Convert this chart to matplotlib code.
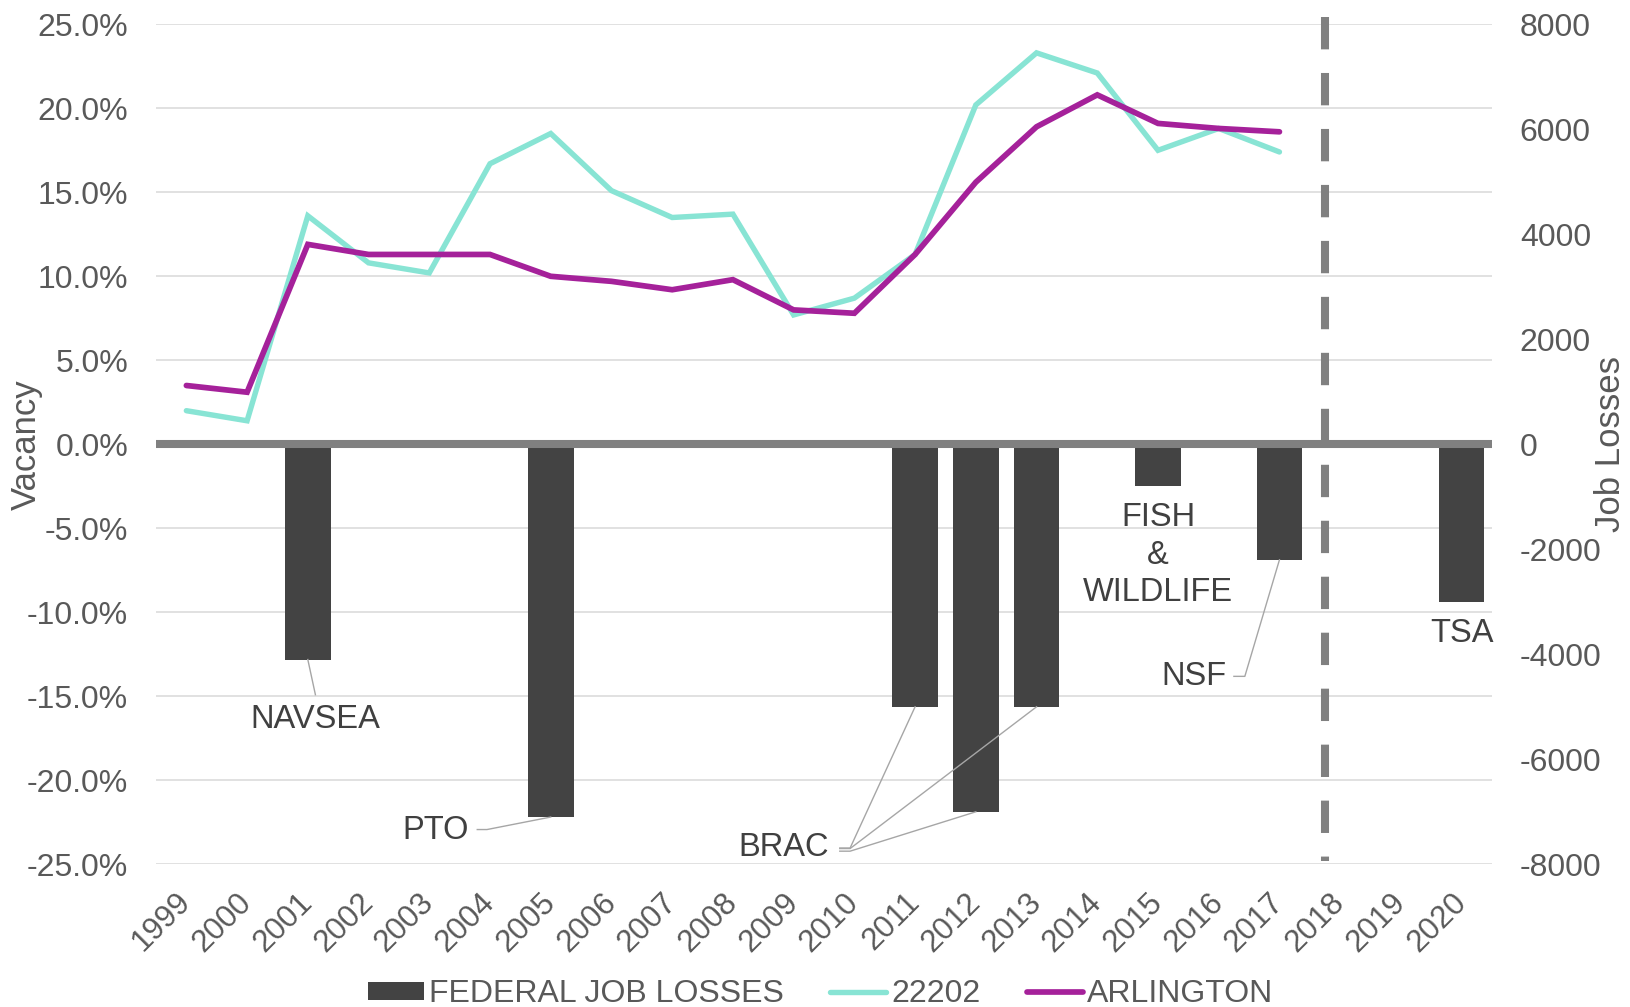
import matplotlib
matplotlib.use("Agg")
import matplotlib.pyplot as plt
import numpy as np

plt.rcParams['font.family'] = ['Liberation Sans', 'DejaVu Sans']
plt.rcParams['lines.scale_dashes'] = False

# ---------------- data ----------------
years = [str(y) for y in range(1999, 2021)]
vacancy_22202 = [2.0, 1.4, 13.6, 10.8, 10.2, 16.7, 18.5, 15.1, 13.5, 13.7, 7.7,
                 8.7, 11.3, 20.2, 23.3, 22.1, 17.5, 18.8, 17.4, np.nan, np.nan, np.nan]
vacancy_arlington = [3.5, 3.1, 11.9, 11.3, 11.3, 11.3, 10.0, 9.7, 9.2, 9.8, 8.0,
                     7.8, 11.3, 15.6, 18.9, 20.8, 19.1, 18.8, 18.6, np.nan, np.nan, np.nan]
federal_job_losses = [0, 0, -4100, 0, 0, 0, -7100, 0, 0, 0, 0,
                      0, -5000, -7000, -5000, 0, -800, 0, -2200, 0, 0, -3000]
left_ticks = [25, 20, 15, 10, 5, 0, -5, -10, -15, -20, -25]
right_ticks = [8000, 6000, 4000, 2000, 0, -2000, -4000, -6000, -8000]
marker_year = 18.75   # dashed divider position (category units)

TXT = '#595959'
BAR = '#434343'
TEAL = '#88E4D4'
PURPLE = '#A5219A'
GREY = '#808080'

fig = plt.figure(figsize=(16.3, 10.07), dpi=100)
ax = fig.add_axes([156/1630, 1-864.3/1007, 1336/1630, 840/1007])
ax2 = ax.twinx()

x = np.arange(len(years))

# bars on job-loss axis
bar_idx = [i for i, v in enumerate(federal_job_losses) if v != 0]
ax2.bar([x[i] for i in bar_idx], [federal_job_losses[i] for i in bar_idx],
        width=0.75, color=BAR, zorder=2, label='FEDERAL JOB LOSSES')

# lines on vacancy axis
l1, = ax.plot(x, vacancy_22202, color=TEAL, lw=3.9, zorder=3, label='22202',
              solid_capstyle='round', solid_joinstyle='miter')
l2, = ax.plot(x, vacancy_arlington, color=PURPLE, lw=4.1, zorder=3, label='ARLINGTON',
              solid_capstyle='round', solid_joinstyle='miter')

ax.set_xlim(-0.5, len(years)-0.5)
ax.set_ylim(-25, 25)
ax2.set_ylim(-8000, 8000)

ax.set_yticks(left_ticks)
ax.set_yticklabels([f'{v:.1f}%' for v in left_ticks])
ax2.set_yticks(right_ticks)
ax2.set_yticklabels([str(v) for v in right_ticks])

ax.grid(axis='y', color='#d9d9d9', lw=1.1, zorder=0)
ax.set_axisbelow(True)
for a in (ax, ax2):
    for s in a.spines.values():
        s.set_visible(False)

ax.set_xticks(x)
ax.set_xticklabels(years, rotation=45, ha='right', va='center',
                   rotation_mode='anchor', fontsize=22.5, color=TXT)
ax.tick_params(axis='x', length=0, pad=24)
ax.tick_params(axis='y', length=0, pad=20, labelsize=23, labelcolor=TXT)
ax2.tick_params(axis='y', length=0, pad=20, labelsize=23, labelcolor=TXT)

ax.set_ylabel('Vacancy', fontsize=25, color=TXT)
ax.yaxis.set_label_coords((26-156)/1336, 0.5)
ax.yaxis.label.set_va('center')
ax2.set_ylabel('Job Losses', fontsize=25, color=TXT, rotation=90)
ax2.yaxis.set_label_coords((1611-156)/1336, 0.5)
ax2.yaxis.label.set_va('center')

# zero line and divider
ax2.axhline(0, color=GREY, lw=5.8, zorder=4)
ax.plot([marker_year, marker_year], [25.45, -24.8], color=GREY, lw=5.8,
        dashes=(23.3, 17.0), dash_capstyle='butt', zorder=4, clip_on=False)

# annotations (job-loss axis coordinates)
LEAD = '#a6a6a6'
ANN = '#404040'
fs = 23.5
ax2.text(2.12, -5233, 'NAVSEA', ha='center', va='center', fontsize=fs, color=ANN)
ax2.plot([2, 2.125], [federal_job_losses[2], -4770], color=LEAD, lw=1)

ax2.text(4.11, -7348, 'PTO', ha='center', va='center', fontsize=fs, color=ANN)
ax2.plot([4.79, 4.95, 6], [-7338, -7338, federal_job_losses[6]], color=LEAD, lw=1)

ax2.text(9.84, -7672, 'BRAC', ha='center', va='center', fontsize=fs, color=ANN)
for i, sy in [(12, -7690), (13, -7750), (14, -7700)]:
    ax2.plot([10.76, 10.93, i], [sy, sy, federal_job_losses[i]], color=LEAD, lw=1)

ax2.text(16, -2109, 'FISH\n&\nWILDLIFE', ha='center', va='center', fontsize=fs,
         color=ANN, linespacing=1.28)

ax2.text(16.6, -4427, 'NSF', ha='center', va='center', fontsize=fs, color=ANN)
ax2.plot([17.25, 17.43, 18], [-4420, -4420, federal_job_losses[18]], color=LEAD, lw=1)

ax2.text(21, -3595, 'TSA', ha='center', va='center', fontsize=fs, color=ANN)

# legend
handles = [ax2.containers[0], l1, l2]
labels = ['FEDERAL JOB LOSSES', '22202', 'ARLINGTON']
fig.legend(handles, labels, loc='center', bbox_to_anchor=(821/1630, 1-994/1007),
           ncol=3, frameon=False, fontsize=23, labelcolor=TXT,
           handlelength=1.75, handleheight=0.5, handletextpad=0.15, columnspacing=1.45)

fig.savefig('out.png', dpi=100)
